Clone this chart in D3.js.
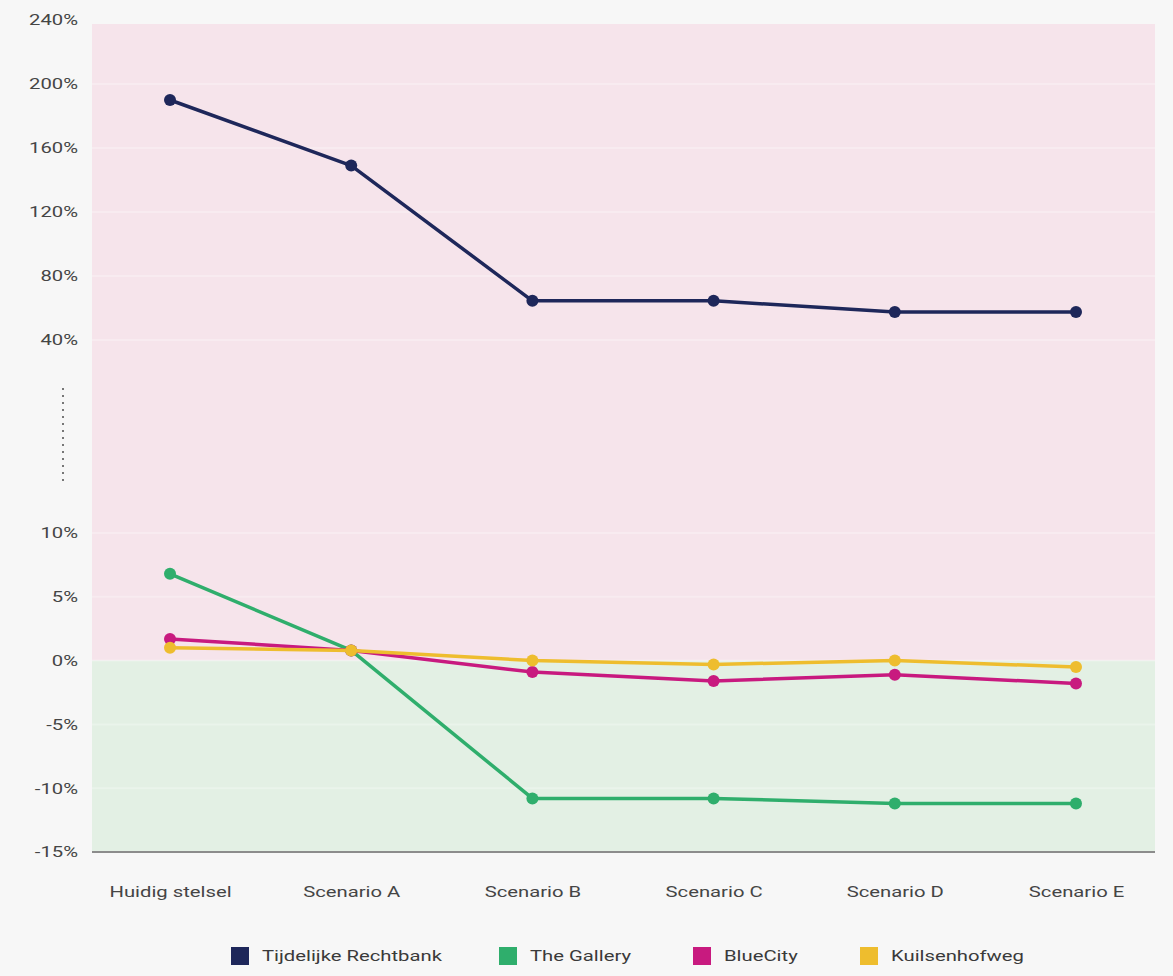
<!DOCTYPE html>
<html><head><meta charset="utf-8">
<script src="https://cdn.jsdelivr.net/npm/d3@7"></script>
<style>
html,body{margin:0;padding:0;background:#f7f7f7;}
text{font-family:Roboto,"Noto Sans",sans-serif;}
</style></head>
<body>
<svg id="c" width="1173" height="976"></svg>
<script>
const categories = ["Huidig stelsel","Scenario A","Scenario B","Scenario C","Scenario D","Scenario E"];
const seriesNames = ["Tijdelijke Rechtbank","The Gallery","BlueCity","Kuilsenhofweg"];
const seriesColors = ["#1e275a","#2fae6c","#c81a7f","#eebd2e"];
const rechtbank = [190, 149, 64.5, 64.5, 57.5, 57.5];
const gallery = [6.8, 0.8, -10.8, -10.8, -11.2, -11.2];
const blueCity = [1.7, 0.8, -0.9, -1.6, -1.1, -1.8];
const kuilsenhofweg = [1.0, 0.8, 0.0, -0.3, 0.0, -0.5];
const upperTicks = [40, 80, 120, 160, 200, 240];
const lowerTicks = [-15, -10, -5, 0, 5, 10];

const svg = d3.select("#c");
const L = 92, R = 1155, T = 24, B = 852;
const STRETCH = 1.35;
function stretch(sel) {
  sel.each(function () {
    const w = this.getComputedTextLength();
    d3.select(this).attr("textLength", w * STRETCH).attr("lengthAdjust", "spacingAndGlyphs");
  });
}

const x = d3.scalePoint().domain(categories).range([170, 1076]);
const yTop = d3.scaleLinear().domain([40, 240]).range([340, 20]);
const yBot = d3.scaleLinear().domain([-15, 10]).range([852, 533]);
const y = v => v >= 40 ? yTop(v) : yBot(v);

// background zones
svg.append("rect").attr("x", L).attr("y", T).attr("width", R - L).attr("height", yBot(0) - T).attr("fill", "#f6e4eb");
svg.append("rect").attr("x", L).attr("y", yBot(0)).attr("width", R - L).attr("height", B - yBot(0)).attr("fill", "#e3f0e4");

// faint gridlines
const grid = svg.append("g");
upperTicks.filter(t => t < 240).forEach(t => grid.append("line").attr("x1", L).attr("x2", R).attr("y1", yTop(t)).attr("y2", yTop(t)).attr("stroke", "#ffffff").attr("stroke-opacity", 0.25).attr("stroke-width", 2));
lowerTicks.filter(t => t > -15).forEach(t => grid.append("line").attr("x1", L).attr("x2", R).attr("y1", yBot(t)).attr("y2", yBot(t)).attr("stroke", "#ffffff").attr("stroke-opacity", 0.25).attr("stroke-width", 2));

// y axes
const axTop = svg.append("g").attr("transform", `translate(${L - 14},0)`)
  .call(d3.axisLeft(yTop).tickValues(upperTicks).tickSize(0).tickPadding(0).tickFormat(d => d + "%"));
const axBot = svg.append("g").attr("transform", `translate(${L - 14},0)`)
  .call(d3.axisLeft(yBot).tickValues(lowerTicks).tickSize(0).tickPadding(0).tickFormat(d => d + "%"));
[axTop, axBot].forEach(a => {
  a.select(".domain").remove();
  a.selectAll("text").attr("fill", "#454545").attr("font-size", 15).call(stretch);
});

// axis break marker
svg.append("line").attr("x1", 63).attr("x2", 63).attr("y1", 388).attr("y2", 485)
  .attr("stroke", "#777").attr("stroke-width", 2).attr("stroke-dasharray", "2,5");

// x axis
const axX = svg.append("g").attr("transform", `translate(0,${B})`)
  .call(d3.axisBottom(x).tickSize(0).tickPadding(34));
axX.select(".domain").attr("d", `M${L},0H${R}`).attr("stroke", "#8c8c8c").attr("stroke-width", 2);
axX.selectAll("text").attr("fill", "#454545").attr("font-size", 15).call(stretch);

// lines
const allSeries = [rechtbank, gallery, blueCity, kuilsenhofweg];
const line = d3.line().x((d, i) => x(categories[i])).y(d => y(d));
allSeries.forEach((s, si) => {
  const g = svg.append("g");
  g.append("path").datum(s).attr("d", line).attr("fill", "none")
    .attr("stroke", seriesColors[si]).attr("stroke-width", 3.5).attr("stroke-linejoin", "round");
  g.selectAll("circle").data(s).join("circle")
    .attr("cx", (d, i) => x(categories[i])).attr("cy", d => y(d)).attr("r", 6)
    .attr("fill", seriesColors[si]);
});

// legend
const legendX = [231, 499, 693, 860];
const lg = svg.append("g").attr("transform", "translate(0,956)");
seriesNames.forEach((n, i) => {
  lg.append("rect").attr("x", legendX[i]).attr("y", -9).attr("width", 18).attr("height", 18).attr("fill", seriesColors[i]);
  lg.append("text").attr("x", legendX[i] + 31).attr("y", 0).attr("dy", "0.35em")
    .attr("font-size", 15).attr("fill", "#3a3a3a").text(n).call(stretch);
});
</script>
</body></html>
